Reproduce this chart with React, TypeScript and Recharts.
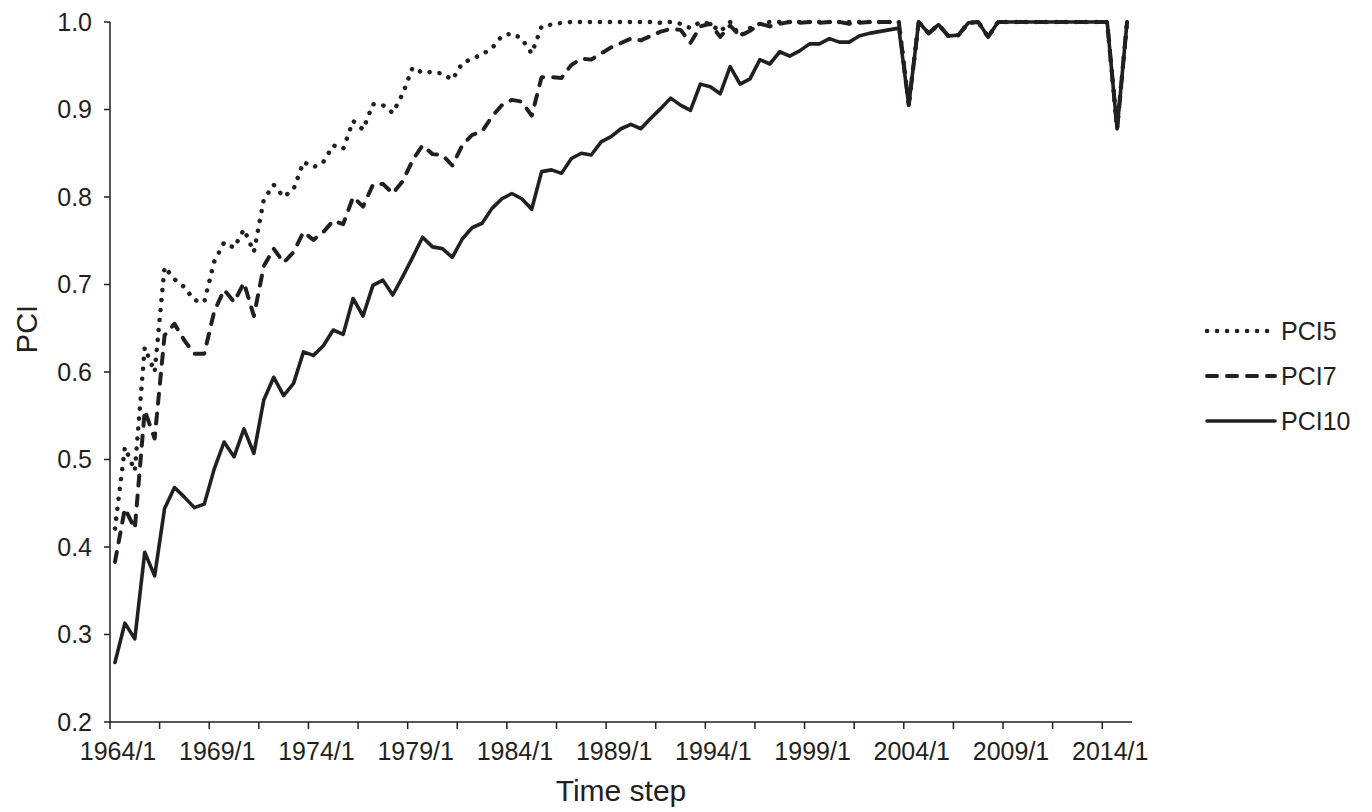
import React from "react";
import { LineChart, Line, XAxis, YAxis, Legend, Label } from "recharts";

const INK = "#231f20";
const FONT = '"Liberation Sans", Arial, Helvetica, sans-serif';

// half-year time steps
const periods = [
  "1964/1", "1964/7", "1965/1", "1965/7", "1966/1", "1966/7", "1967/1", "1967/7", "1968/1", "1968/7",
  "1969/1", "1969/7", "1970/1", "1970/7", "1971/1", "1971/7", "1972/1", "1972/7", "1973/1", "1973/7",
  "1974/1", "1974/7", "1975/1", "1975/7", "1976/1", "1976/7", "1977/1", "1977/7", "1978/1", "1978/7",
  "1979/1", "1979/7", "1980/1", "1980/7", "1981/1", "1981/7", "1982/1", "1982/7", "1983/1", "1983/7",
  "1984/1", "1984/7", "1985/1", "1985/7", "1986/1", "1986/7", "1987/1", "1987/7", "1988/1", "1988/7",
  "1989/1", "1989/7", "1990/1", "1990/7", "1991/1", "1991/7", "1992/1", "1992/7", "1993/1", "1993/7",
  "1994/1", "1994/7", "1995/1", "1995/7", "1996/1", "1996/7", "1997/1", "1997/7", "1998/1", "1998/7",
  "1999/1", "1999/7", "2000/1", "2000/7", "2001/1", "2001/7", "2002/1", "2002/7", "2003/1", "2003/7",
  "2004/1", "2004/7", "2005/1", "2005/7", "2006/1", "2006/7", "2007/1", "2007/7", "2008/1", "2008/7",
  "2009/1", "2009/7", "2010/1", "2010/7", "2011/1", "2011/7", "2012/1", "2012/7", "2013/1", "2013/7",
  "2014/1", "2014/7", "2015/1",
];

const pci5 = [
  0.421, 0.514, 0.487, 0.628, 0.600, 0.720, 0.706, 0.697, 0.682, 0.680,
  0.726, 0.748, 0.742, 0.763, 0.737, 0.797, 0.814, 0.800, 0.809, 0.840,
  0.834, 0.840, 0.859, 0.855, 0.887, 0.877, 0.906, 0.905, 0.896, 0.918,
  0.948, 0.942, 0.943, 0.941, 0.934, 0.953, 0.958, 0.963, 0.970, 0.984,
  0.987, 0.981, 0.964, 0.995, 0.997, 0.999, 1.0, 1.0, 1.0, 1.0,
  1.0, 1.0, 1.0, 1.0, 1.0, 0.999, 1.0, 0.998, 0.993, 1.0,
  0.998, 0.989, 1.0, 0.984, 0.993, 0.998, 1.0, 1.0, 1.0, 1.0,
  1.0, 1.0, 1.0, 1.0, 1.0, 1.0, 1.0, 1.0, 1.0, 1.0,
  0.905, 1.0, 0.987, 0.997, 0.984, 0.985, 0.999, 1.0, 0.983, 1.0,
  1.0, 1.0, 1.0, 1.0, 1.0, 1.0, 1.0, 1.0, 1.0, 1.0,
  1.0, 0.878, 1.0,
];

const pci7 = [
  0.383, 0.444, 0.421, 0.556, 0.524, 0.642, 0.655, 0.636, 0.621, 0.621,
  0.669, 0.694, 0.680, 0.702, 0.664, 0.721, 0.741, 0.725, 0.737, 0.760,
  0.751, 0.760, 0.773, 0.769, 0.800, 0.789, 0.814, 0.815, 0.804, 0.818,
  0.842, 0.859, 0.849, 0.848, 0.836, 0.859, 0.871, 0.875, 0.892, 0.905,
  0.911, 0.909, 0.893, 0.937, 0.937, 0.936, 0.951, 0.958, 0.957, 0.964,
  0.971, 0.976, 0.981, 0.979, 0.984, 0.989, 0.992, 0.991, 0.976, 0.995,
  0.998, 0.983, 0.996, 0.984, 0.990, 0.998, 0.995, 0.998, 1.0, 0.999,
  1.0, 0.999, 1.0, 1.0, 0.998, 0.999, 1.0, 1.0, 1.0, 1.0,
  0.905, 1.0, 0.987, 0.997, 0.984, 0.985, 0.999, 1.0, 0.983, 1.0,
  1.0, 1.0, 1.0, 1.0, 1.0, 1.0, 1.0, 1.0, 1.0, 1.0,
  1.0, 0.878, 1.0,
];

const pci10 = [
  0.268, 0.313, 0.295, 0.394, 0.367, 0.444, 0.468, 0.457, 0.445, 0.449,
  0.489, 0.520, 0.503, 0.535, 0.507, 0.568, 0.594, 0.573, 0.587, 0.623,
  0.619, 0.630, 0.648, 0.643, 0.684, 0.664, 0.699, 0.705, 0.688, 0.709,
  0.731, 0.754, 0.743, 0.741, 0.731, 0.752, 0.765, 0.770, 0.787, 0.798,
  0.804, 0.798, 0.786, 0.829, 0.831, 0.827, 0.844, 0.850, 0.848, 0.863,
  0.869, 0.878, 0.883, 0.878, 0.890, 0.901, 0.913, 0.905, 0.899, 0.929,
  0.926, 0.918, 0.949, 0.929, 0.935, 0.957, 0.952, 0.966, 0.961, 0.967,
  0.975, 0.975, 0.981, 0.977, 0.977, 0.984, 0.987, 0.989, 0.991, 0.993,
  0.905, 1.0, 0.987, 0.997, 0.984, 0.985, 0.999, 1.0, 0.983, 1.0,
  1.0, 1.0, 1.0, 1.0, 1.0, 1.0, 1.0, 1.0, 1.0, 1.0,
  1.0, 0.878, 1.0,
];

const yTicks = [0.2, 0.3, 0.4, 0.5, 0.6, 0.7, 0.8, 0.9, 1.0];
// tick marks sit on category boundaries, every 5 steps; label every 10
const xTicks = Array.from({ length: 21 }, (_, k) => k * 5 - 0.5);

const series = [
  { key: "pci5", name: "PCI5", width: 4.5, dash: "0.1 9.9" },
  { key: "pci7", name: "PCI7", width: 4, dash: "10 10" },
  { key: "pci10", name: "PCI10", width: 3.6, dash: undefined as string | undefined },
];

const data = periods.map((p, i) => ({
  idx: i,
  period: p,
  pci5: pci5[i],
  pci7: pci7[i],
  pci10: pci10[i],
}));

const XTick = (props: any) => {
  const { x, y, payload } = props;
  const idx = Math.round(payload.value + 0.5);
  if (idx % 10 !== 0) return <g />;
  return (
    <text x={x + 8} y={y} dy="0.71em" textAnchor="middle" fill={INK} fontSize={25} fontFamily={FONT}>
      {periods[idx]}
    </text>
  );
};

const renderLegend = () => (
  <svg width={170} height={140}>
    {series.map((s, i) => {
      const cy = 31 + i * 45;
      return (
        <g key={s.key}>
          <line
            x1={7}
            x2={75}
            y1={cy}
            y2={cy}
            stroke={INK}
            strokeWidth={s.width}
            strokeDasharray={s.dash}
            strokeLinecap="round"
          />
          <text x={81} y={cy} dy="0.35em" fill={INK} fontSize={25} fontFamily={FONT}>
            {s.name}
          </text>
        </g>
      );
    })}
  </svg>
);

export default function App() {
  return (
    <div style={{ position: "absolute", left: 0, top: 0, background: "#fff" }}>
      <LineChart
        width={1372}
        height={812}
        data={data}
        margin={{ top: 22, right: 240, bottom: 0, left: 0 }}
      >
        <XAxis
          dataKey="idx"
          type="number"
          domain={[-0.5, 102.5]}
          ticks={xTicks}
          interval={0}
          height={90}
          tickSize={7}
          tickMargin={13}
          tick={<XTick />}
          axisLine={{ stroke: INK, strokeWidth: 1.5 }}
          tickLine={{ stroke: INK, strokeWidth: 1.5 }}
        >
          <Label
            content={(p: any) => (
              <text
                x={p.viewBox.x + p.viewBox.width / 2}
                y={p.viewBox.y + 79}
                textAnchor="middle"
                fill={INK}
                fontSize={30}
                fontFamily={FONT}
              >
                Time step
              </text>
            )}
          />
        </XAxis>
        <YAxis
          type="number"
          domain={[0.2, 1.0]}
          ticks={yTicks}
          interval={0}
          width={110}
          tickSize={6}
          tickMargin={12}
          tickFormatter={(v: number) => v.toFixed(1)}
          tick={{ fill: INK, fontSize: 25, fontFamily: FONT }}
          axisLine={{ stroke: INK, strokeWidth: 1.5 }}
          tickLine={{ stroke: INK, strokeWidth: 1.5 }}
        >
          <Label
            content={(p: any) => {
              const x = p.viewBox.x + 36.5;
              const y = p.viewBox.y + 307;
              return (
                <text
                  x={x}
                  y={y}
                  transform={`rotate(-90, ${x}, ${y})`}
                  textAnchor="middle"
                  fill={INK}
                  fontSize={29}
                  fontFamily={FONT}
                >
                  PCI
                </text>
              );
            }}
          />
        </YAxis>
        <Legend
          layout="vertical"
          align="center"
          verticalAlign="middle"
          content={renderLegend}
          wrapperStyle={{ position: "absolute", left: 1200, top: 300, width: 170 }}
        />
        {series.map((s) => (
          <Line
            key={s.key}
            type="linear"
            dataKey={s.key}
            name={s.name}
            stroke={INK}
            strokeWidth={s.width}
            strokeDasharray={s.dash}
            strokeLinecap="round"
            strokeLinejoin="round"
            dot={false}
            activeDot={false}
            isAnimationActive={false}
          />
        ))}
      </LineChart>
    </div>
  );
}
